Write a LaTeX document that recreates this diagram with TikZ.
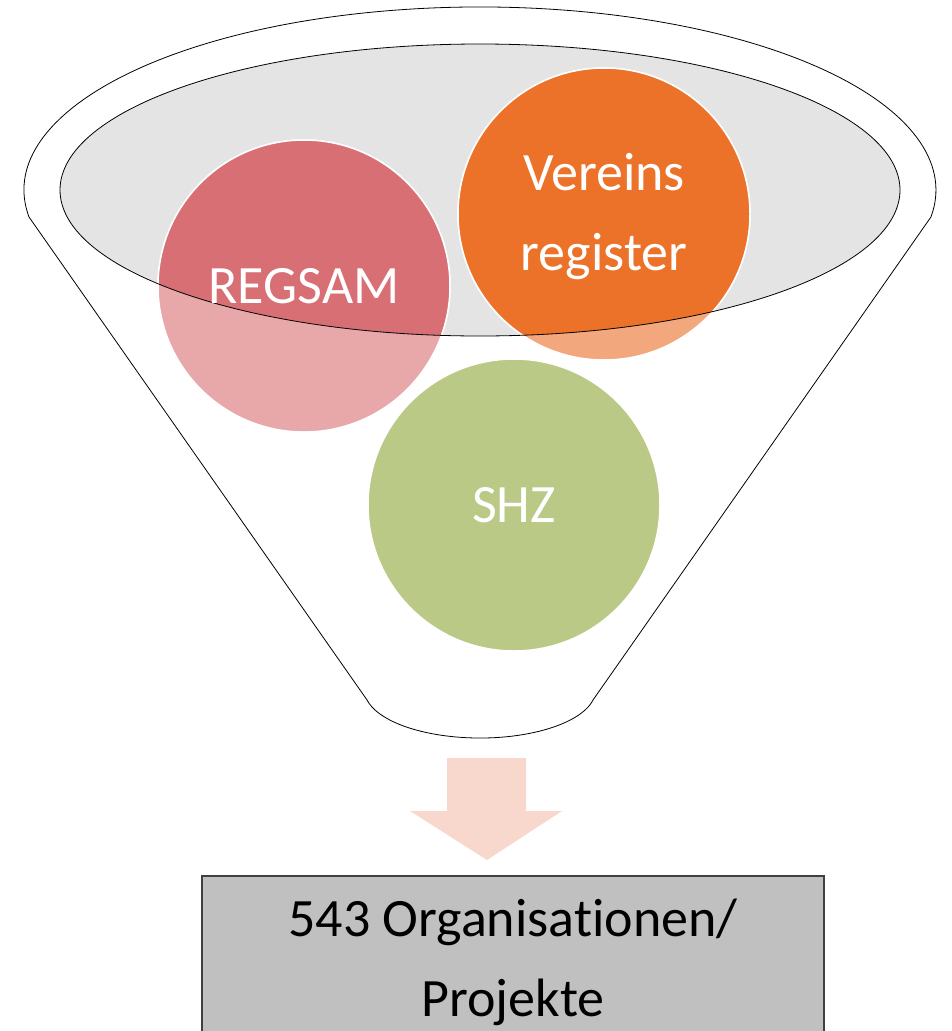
\documentclass[tikz,border=0pt]{standalone}
\usepackage{fontspec}
\setmainfont{Carlito}[Ligatures=NoCommon]

\definecolor{openinggray}{HTML}{E4E4E4}
\definecolor{regsamfull}{HTML}{D86F74}
\definecolor{regsamlight}{HTML}{E8A8AA}
\definecolor{vereinfull}{HTML}{EC7229}
\definecolor{vereinlight}{HTML}{F2A87C}
\definecolor{shzgreen}{HTML}{BBC987}
\definecolor{arrowpink}{HTML}{F8D7CD}
\definecolor{boxgray}{HTML}{C0C0C0}
\definecolor{boxline}{HTML}{404040}

% Oeffnung des Trichters (Ellipse)
\newcommand{\openingpath}{(480,190) ellipse [x radius=420, y radius=146]}

\begin{document}
\begin{tikzpicture}[
    x=1pt, y=-1pt,
    % Linien des Trichters
    funnelline/.style={draw=black, line width=0.8pt},
    % Kreise der Datenquellen
    bubble/.style={circle, minimum size=292pt, inner sep=0pt, draw=white, line width=1.5pt},
    bubbletext/.style={text=white, font=\fontsize{54}{80}\selectfont, align=center},
    % Ergebnisfeld
    resultbox/.style={rectangle, fill=boxgray, draw=boxline, line width=1.5pt,
      minimum width=622pt, minimum height=172pt, align=center,
      font=\fontsize{54}{80}\selectfont}
  ]
  \useasboundingbox (0,0) rectangle (952,1031);

  % Trichter
  \draw[funnelline] (29,217)
    arc [start angle=171.5, end angle=368.5, x radius=456, y radius=183]
    -- (593,700)
    arc [start angle=12, end angle=168, x radius=115.5, y radius=48]
    -- cycle;
  \fill[openinggray] \openingpath;

  % Datenquellen
  \node[bubble, fill=regsamlight] (regsam) at (304,286) {};
  \node[bubble, fill=vereinlight] (verein) at (604,214) {};
  \node[bubble, fill=shzgreen] (shz) at (514,505) {};

  % Teil der Kreise innerhalb der Oeffnung
  \begin{scope}
    \clip \openingpath;
    \filldraw[fill=regsamfull, draw=white, line width=1.5pt] (regsam.center) circle [radius=146];
    \filldraw[fill=vereinfull, draw=white, line width=1.5pt] (verein.center) circle [radius=146];
  \end{scope}
  \draw[funnelline] \openingpath;

  % Beschriftungen
  \node[bubbletext] (regsamtext) at (regsam) {REGSAM};
  \node[bubbletext] (vereintext) at ([yshift=-3pt]verein.center) {Vereins\\register};
  \node[bubbletext] (shztext) at (shz) {SHZ};

  % Pfeil nach unten
  \fill[arrowpink] (447,758) -- (526,758) -- (526,811) -- (562,811)
    -- (487,860) -- (410,811) -- (447,811) -- cycle;

  % Ergebnis
  \node[resultbox] (result) at (513,962) {543 Organisationen/\\Projekte};

\end{tikzpicture}
\end{document}
